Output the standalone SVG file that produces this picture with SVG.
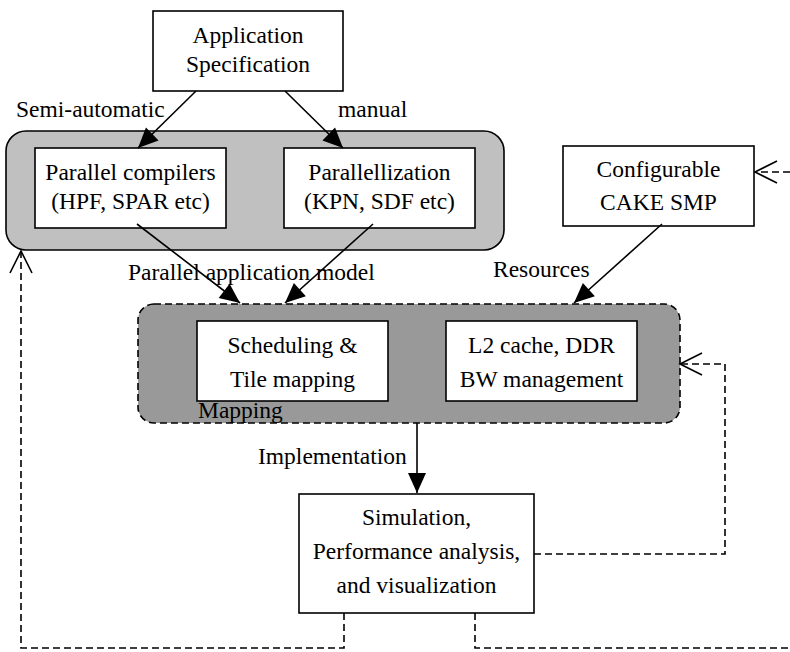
<svg xmlns="http://www.w3.org/2000/svg" width="790" height="652" viewBox="0 0 790 652" font-family="Liberation Serif, DejaVu Serif, serif">
<style>
text{font-family:"Liberation Serif","DejaVu Serif",serif;font-size:23.5px;fill:#000}
.c{text-anchor:middle}
.box{fill:#fff;stroke:#000;stroke-width:1.6}
.arr{fill:none;stroke:#000;stroke-width:1.6}
.dash{fill:none;stroke:#000;stroke-width:1.6;stroke-dasharray:7 4}
</style>
<defs>
<marker id="fa" markerUnits="userSpaceOnUse" viewBox="-20 -10 22 20" refX="0" refY="0" markerWidth="22" markerHeight="20" orient="auto" overflow="visible">
<path d="M-20,-9 L0,0 L-20,9 Z" fill="#000" stroke="none"/>
</marker>
<marker id="oa" markerUnits="userSpaceOnUse" viewBox="-24 -12 26 24" refX="0" refY="0" markerWidth="26" markerHeight="24" orient="auto" overflow="visible">
<path d="M-22,-11 L0,0 L-22,11" fill="none" stroke="#000" stroke-width="1.6" stroke-dasharray="none"/>
</marker>
</defs>

<g id="group-parallel">
<rect x="6" y="131" width="498" height="119" rx="20" ry="20" fill="#c0c0c0" stroke="#000" stroke-width="1.6"/>
</g>
<g id="group-mapping">
<rect x="138" y="304" width="542" height="119" rx="16" ry="16" fill="#999999" stroke="#000" stroke-width="1.6" stroke-dasharray="7 4"/>
<text x="198" y="418">Mapping</text>
</g>

<g id="app-spec">
<rect class="box" x="153" y="11" width="190" height="80"/>
<text class="c" x="248" y="43">Application</text>
<text class="c" x="248" y="72">Specification</text>
</g>
<g id="parallel-compilers">
<rect class="box" x="35" y="148" width="191" height="80"/>
<text class="c" x="130.5" y="180">Parallel compilers</text>
<text class="c" x="130.5" y="209">(HPF, SPAR etc)</text>
</g>
<g id="parallellization">
<rect class="box" x="284" y="148" width="191" height="80"/>
<text class="c" x="379.5" y="180">Parallellization</text>
<text class="c" x="379.5" y="209">(KPN, SDF etc)</text>
</g>
<g id="cake-smp">
<rect class="box" x="563" y="146" width="191" height="80"/>
<text class="c" x="658.5" y="177">Configurable</text>
<text class="c" x="658.5" y="210">CAKE SMP</text>
</g>
<g id="scheduling">
<rect class="box" x="197" y="321" width="191" height="80"/>
<text class="c" x="292.5" y="353">Scheduling &amp;</text>
<text class="c" x="292.5" y="387">Tile mapping</text>
</g>
<g id="l2cache">
<rect class="box" x="446" y="321" width="191" height="80"/>
<text class="c" x="541.5" y="353">L2 cache, DDR</text>
<text class="c" x="541.5" y="387">BW management</text>
</g>
<g id="simulation">
<rect class="box" x="299" y="494" width="235" height="119"/>
<text class="c" x="416.5" y="525">Simulation,</text>
<text class="c" x="416.5" y="559">Performance analysis,</text>
<text class="c" x="416.5" y="593">and visualization</text>
</g>

<g id="connectors">
<line class="arr" x1="196" y1="91" x2="138" y2="148" marker-end="url(#fa)"/>
<line class="arr" x1="285" y1="91" x2="343" y2="148" marker-end="url(#fa)"/>
<line class="arr" x1="137" y1="224" x2="240" y2="303" marker-end="url(#fa)"/>
<line class="arr" x1="373" y1="224" x2="285" y2="303" marker-end="url(#fa)"/>
<line class="arr" x1="662" y1="224" x2="574" y2="303" marker-end="url(#fa)"/>
<line class="arr" x1="417" y1="423" x2="417" y2="493" marker-end="url(#fa)"/>
<polyline class="dash" points="534,554 725,554 725,364 680,364" marker-end="url(#oa)"/>
<polyline class="dash" points="344,613 344,648 21,648 21,251" marker-end="url(#oa)"/>
<polyline class="dash" points="475,613 475,648 790,648"/>
<line class="dash" x1="790" y1="172" x2="755" y2="172" marker-end="url(#oa)"/>
<text x="16" y="117">Semi-automatic</text>
<text x="338" y="117">manual</text>
<text x="128" y="280">Parallel application model</text>
<text x="493" y="277">Resources</text>
<text x="258" y="464">Implementation</text>
</g>
</svg>
